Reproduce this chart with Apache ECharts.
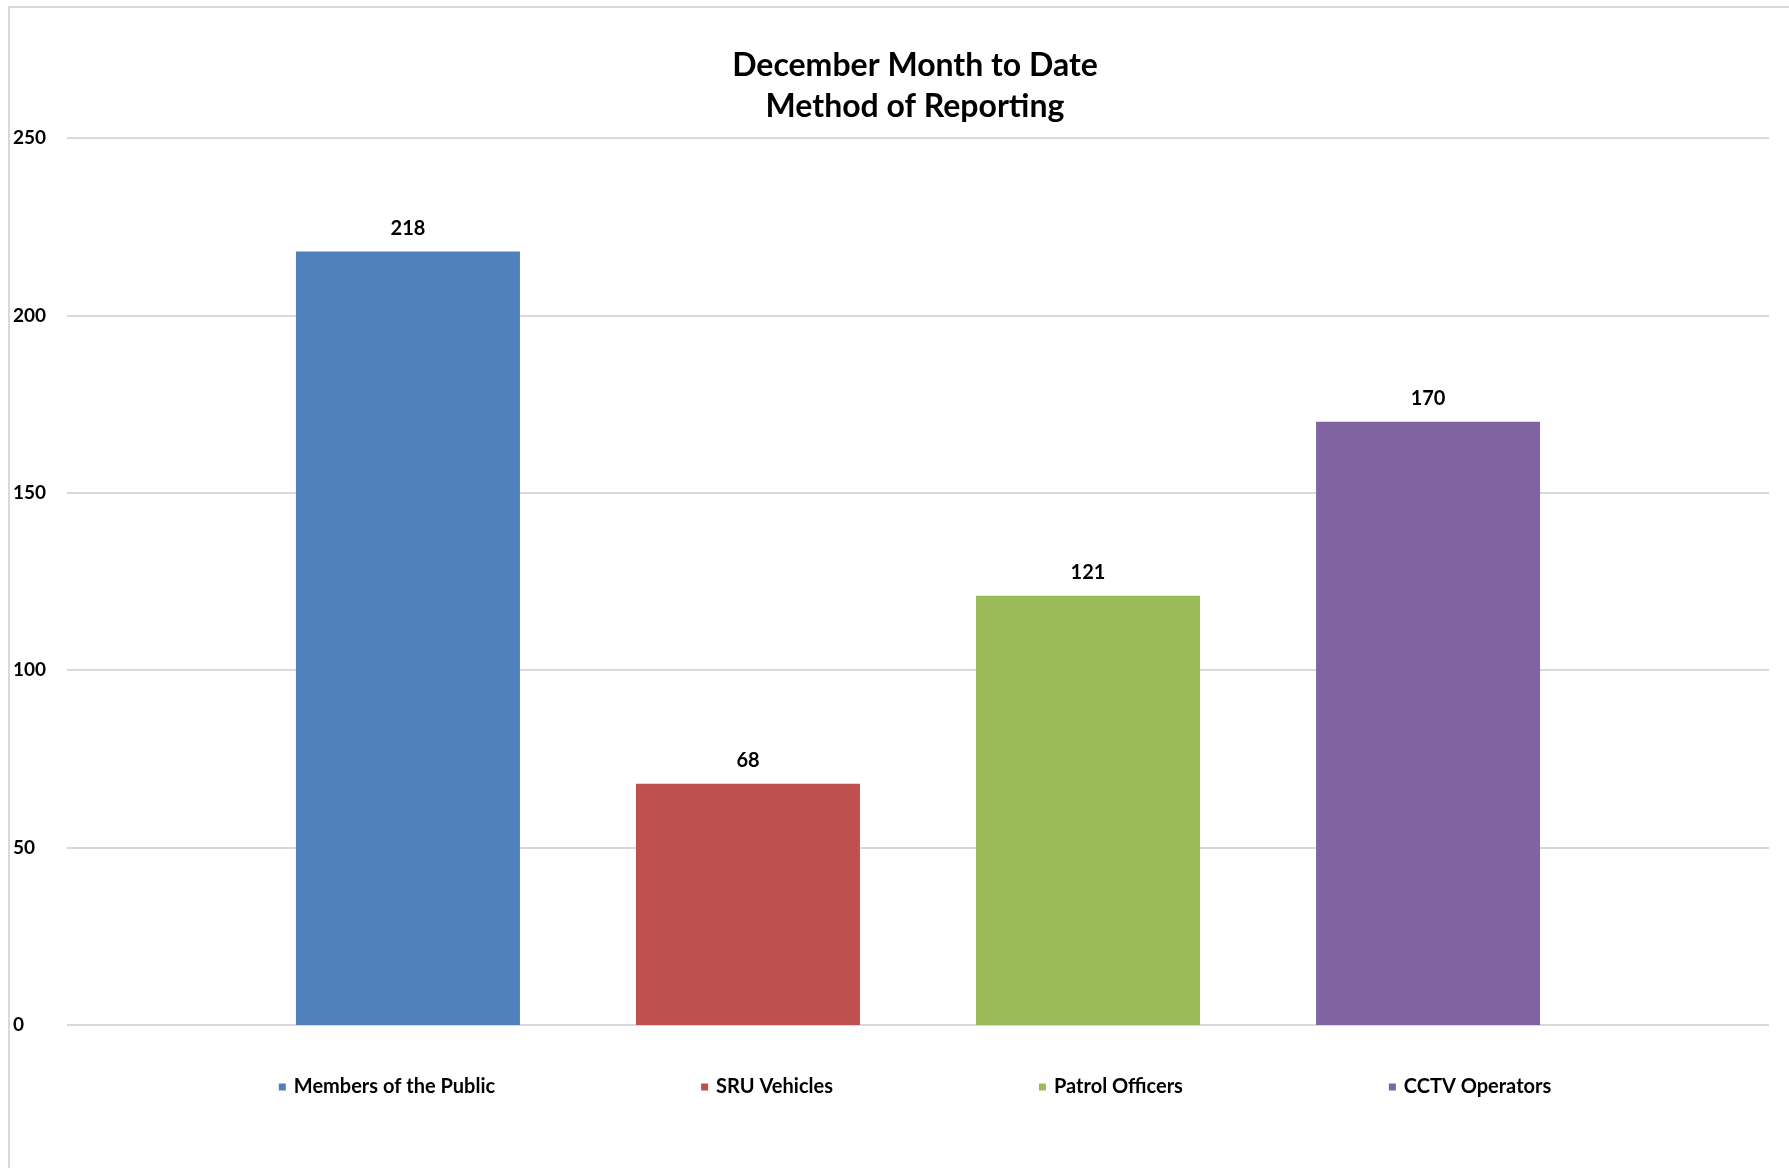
<!DOCTYPE html>
<html>
<head>
<meta charset="utf-8">
<script src="https://cdn.jsdelivr.net/npm/echarts@6/dist/echarts.min.js"></script>
<style>
  html, body { margin: 0; padding: 0; background: #fff; overflow: hidden; }
  #frame { position: absolute; left: 8px; top: 6px; width: 1900px; height: 1300px;
           border-left: 2px solid #d9d9d9; border-top: 2px solid #d9d9d9; }
  #chart { position: absolute; left: 0; top: 0; width: 1830px; height: 1168px; }
</style>
</head>
<body>
<div id="frame"></div>
<div id="chart"></div>
<script>
// 方法 / 数值
var seriesNames = ['Members of the Public', 'SRU Vehicles', 'Patrol Officers', 'CCTV Operators'];
var seriesValues = [218, 68, 121, 170];
var seriesColors = ['#4F81BD', '#C0504D', '#9BBB59', '#8064A2'];
var yTicks = [0, 50, 100, 150, 200, 250];

var font = 'Lato, "Open Sans", sans-serif';
var myChart = echarts.init(document.getElementById('chart'));

myChart.setOption({
    animation: false,
    title: {
        text: 'December Month to Date\nMethod of Reporting',
        left: 'center',
        top: 40,
        textStyle: {
            fontFamily: font,
            fontSize: 32,
            fontWeight: 'bold',
            color: '#000',
            lineHeight: 41
        }
    },
    legend: {
        data: seriesNames,
        left: 'center',
        top: 1072,
        itemWidth: 7,
        itemHeight: 7,
        itemGap: 206,
        icon: 'rect',
        textStyle: {
            fontFamily: font,
            fontSize: 20,
            fontWeight: 'bold',
            color: '#000',
            padding: [0, 0, 0, 3]
        }
    },
    grid: {
        left: 67,
        right: 61,
        top: 138,
        bottom: 143,
        containLabel: false
    },
    xAxis: {
        type: 'category',
        data: [''],
        axisLine: { show: false },
        axisTick: { show: false },
        axisLabel: { show: false }
    },
    yAxis: {
        type: 'value',
        min: yTicks[0],
        max: yTicks[yTicks.length - 1],
        interval: yTicks[1] - yTicks[0],
        axisLine: { show: false },
        axisTick: { show: false },
        axisLabel: {
            align: 'left',
            margin: 54,
            fontFamily: font,
            fontSize: 19,
            fontWeight: 'bold',
            color: '#000'
        },
        splitLine: {
            lineStyle: { color: '#d9d9d9', width: 2 }
        }
    },
    series: seriesNames.map(function (name, i) {
        return {
            name: name,
            type: 'bar',
            data: [seriesValues[i]],
            barWidth: 224,
            barGap: '51.8%',
            itemStyle: {
                color: seriesColors[i]
            },
            label: {
                show: true,
                position: 'top',
                distance: 13,
                fontFamily: font,
                fontSize: 20,
                fontWeight: 'bold',
                color: '#000'
            }
        };
    })
});
</script>
</body>
</html>
